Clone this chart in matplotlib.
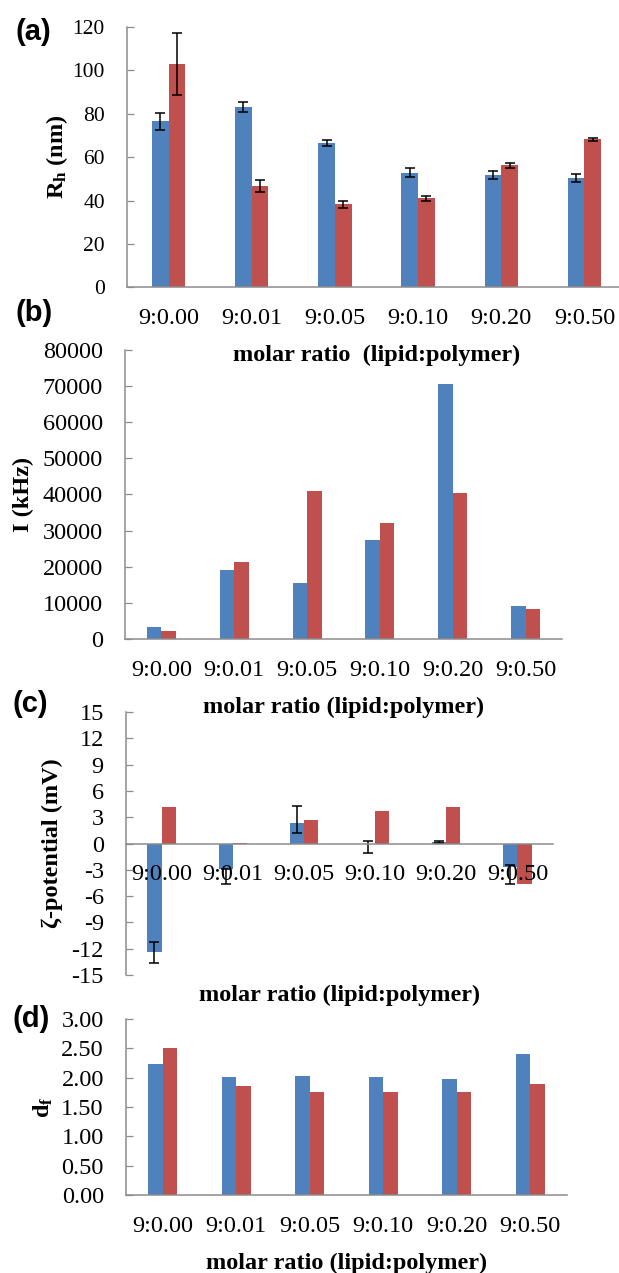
import matplotlib
matplotlib.use('Agg')
import matplotlib.pyplot as plt
import numpy as np
from matplotlib.ticker import FormatStrFormatter, MultipleLocator

plt.rcParams['font.family'] = ['Liberation Serif', 'DejaVu Serif']
plt.rcParams['axes.unicode_minus'] = False
plt.rcParams['mathtext.fontset'] = 'custom'
plt.rcParams['mathtext.rm'] = 'Liberation Serif'
plt.rcParams['mathtext.bf'] = 'Liberation Serif:bold'
plt.rcParams['mathtext.it'] = 'Liberation Serif:italic'

# ---------------- data ----------------
categories = ['9:0.00', '9:0.01', '9:0.05', '9:0.10', '9:0.20', '9:0.50']

rh_blue = [76.5, 83.0, 66.4, 52.9, 51.7, 50.2]
rh_blue_err = [4.0, 2.3, 1.3, 1.9, 1.7, 1.8]
rh_red = [102.8, 46.8, 38.3, 41.1, 56.3, 68.1]
rh_red_err = [14.4, 2.8, 1.5, 1.1, 1.2, 0.6]

int_blue = [3320, 19170, 15480, 27370, 70690, 9030]
int_red = [2120, 21200, 41010, 31980, 40280, 8390]

zeta_blue = [-12.4, -2.9, 2.35, -0.05, 0.2, -2.7]
zeta_blue_err_lo = [1.2, 1.7, 1.15, 1.02, 0.13, 1.9]
zeta_blue_err_hi = [1.2, 0.0, 1.9, 0.28, 0.13, 0.23]
zeta_red = [4.2, 0.05, 2.7, 3.7, 4.2, -4.65]

df_blue = [2.24, 2.01, 2.02, 2.01, 1.97, 2.40]
df_red = [2.51, 1.86, 1.75, 1.76, 1.76, 1.89]

xlabel_a = 'molar ratio  (lipid:polymer)'
xlabel = 'molar ratio (lipid:polymer)'

# ---------------- style ----------------
BLUE = '#4F81BD'
RED = '#C0504D'
GRAY = '#8C8C8C'
W, H = 619, 1273
FS = 17.5
BW = 0.2

fig = plt.figure(figsize=(W / 100, H / 100), dpi=100)


def add_ax(left, right, top, bottom):
    ax = fig.add_axes([left / W, 1 - bottom / H, (right - left) / W, (bottom - top) / H])
    ax.patch.set_visible(False)
    return ax


def style(ax, ytick_fs=FS):
    for s in ['top', 'right']:
        ax.spines[s].set_visible(False)
    for s in ['left', 'bottom']:
        ax.spines[s].set_color(GRAY)
        ax.spines[s].set_linewidth(1.1)
    ax.tick_params(axis='y', direction='in', length=5, width=0.9, color=GRAY,
                   labelsize=ytick_fs, pad=16)
    ax.tick_params(axis='x', length=0, labelsize=FS, pad=15)
    ax.set_xlim(-0.5, len(categories) - 0.5)
    ax.set_xticks(np.arange(len(categories)))
    ax.set_xticklabels(categories)


x = np.arange(len(categories))
ekw = dict(ecolor='black', elinewidth=1.1, capsize=3.8, capthick=1.1)

# (a)
axa = add_ax(127, 626, 26.7, 287.5)
axa.bar(x - BW / 2, rh_blue, BW, color=BLUE, yerr=rh_blue_err, error_kw=ekw)
axa.bar(x + BW / 2, rh_red, BW, color=RED, yerr=rh_red_err, error_kw=ekw)
axa.set_ylim(0, 120)
axa.yaxis.set_major_locator(MultipleLocator(20))
style(axa, ytick_fs=15.5)
axa.set_ylabel(r'$\mathbf{R}_\mathbf{h}$ (nm)', fontsize=FS, fontweight='bold', va='center')
axa.yaxis.set_label_coords((57 - 127) / 499, 0.5)
axa.set_xlabel(xlabel_a, fontsize=FS, fontweight='bold', va='center')
axa.xaxis.set_label_coords(0.5, -(355 - 287.5) / (287.5 - 26.7))

# (b)
axb = add_ax(125, 562, 350, 639)
axb.bar(x - BW / 2, int_blue, BW, color=BLUE)
axb.bar(x + BW / 2, int_red, BW, color=RED)
axb.set_ylim(0, 80000)
axb.yaxis.set_major_locator(MultipleLocator(10000))
axb.yaxis.set_major_formatter(FormatStrFormatter('%d'))
style(axb)
axb.set_ylabel('I (kHz)', fontsize=FS, fontweight='bold', va='center')
axb.yaxis.set_label_coords((23 - 125) / 437, 0.5)
axb.set_xlabel(xlabel, fontsize=FS, fontweight='bold', va='center')
axb.xaxis.set_label_coords(0.5, -(707 - 639) / (639 - 350))

# (c)
axc = add_ax(126, 553, 712, 975)
axc.bar(x - BW / 2, zeta_blue, BW, color=BLUE,
        yerr=[zeta_blue_err_lo, zeta_blue_err_hi], error_kw=ekw)
axc.bar(x + BW / 2, zeta_red, BW, color=RED)
axc.set_ylim(-15, 15)
axc.yaxis.set_major_locator(MultipleLocator(3))
axc.yaxis.set_major_formatter(FormatStrFormatter('%d'))
style(axc)
axc.spines['bottom'].set_position(('data', 0))
axc.set_ylabel('ζ-potential (mV)', fontsize=FS, fontweight='bold', va='center')
axc.yaxis.set_label_coords((52 - 126) / 427, 0.5)
axc.text(0.5, -(995 - 975) / (975 - 712), xlabel, transform=axc.transAxes,
         ha='center', va='center', fontsize=FS, fontweight='bold')

# (d)
axd = add_ax(126, 567, 1019, 1195)
axd.bar(x - BW / 2, df_blue, BW, color=BLUE)
axd.bar(x + BW / 2, df_red, BW, color=RED)
axd.set_ylim(0, 3)
axd.yaxis.set_major_locator(MultipleLocator(0.5))
axd.yaxis.set_major_formatter(FormatStrFormatter('%.2f'))
style(axd)
axd.set_ylabel(r'$\mathbf{d}_\mathbf{f}$', fontsize=FS, fontweight='bold', va='center')
axd.yaxis.set_label_coords((43.5 - 126) / 441, 0.5)
axd.set_xlabel(xlabel, fontsize=FS, fontweight='bold', va='center')
axd.xaxis.set_label_coords(0.5, -(1263 - 1195) / (1195 - 1019))

# panel letters
for lab, px, py in [('(a)', 33, 32), ('(b)', 34, 313), ('(c)', 30, 704), ('(d)', 31, 1019)]:
    fig.text(px / W, 1 - py / H, lab, ha='center', va='center', fontsize=21,
             fontweight='bold', family=['Liberation Sans', 'DejaVu Sans'])

fig.savefig('out.png', dpi=100)
